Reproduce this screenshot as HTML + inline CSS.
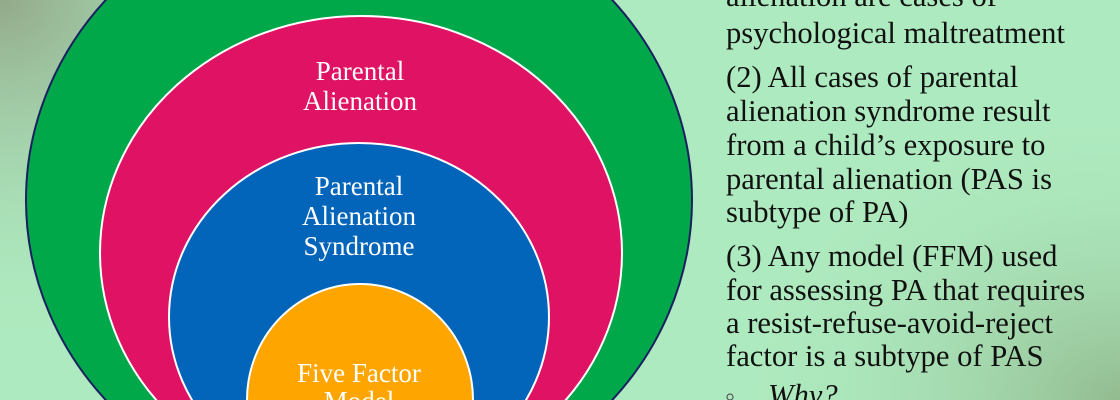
<!DOCTYPE html>
<html><head><meta charset="utf-8"><style>
html,body{margin:0;padding:0;}
body{width:1120px;height:400px;overflow:hidden;background:#aeeabf;}
svg{display:block}
</style></head><body>
<svg width="1120" height="400" viewBox="0 0 1120 400" xmlns="http://www.w3.org/2000/svg" style="overflow:hidden">
<defs>
<radialGradient id="tl" cx="0" cy="0" r="1" gradientUnits="userSpaceOnUse" gradientTransform="translate(0,0) scale(420,360)">
<stop offset="0" stop-color="#93a98a"/><stop offset="1" stop-color="#aeeabf" stop-opacity="0"/></radialGradient>
<radialGradient id="br" cx="0" cy="0" r="1" gradientUnits="userSpaceOnUse" gradientTransform="translate(1120,400) scale(400,300)">
<stop offset="0" stop-color="#93bb90"/><stop offset="1" stop-color="#aeeabf" stop-opacity="0"/></radialGradient>
</defs>
<rect width="1120" height="400" fill="#aeeabf"/>
<rect width="1120" height="400" fill="url(#tl)"/>
<rect width="1120" height="400" fill="url(#br)"/>
<ellipse cx="359" cy="200" rx="333" ry="308" fill="#00a84a" stroke="#1a2060" stroke-width="2"/>
<ellipse cx="361" cy="253" rx="261" ry="237" fill="#e01263" stroke="#fff" stroke-width="2"/>
<ellipse cx="359" cy="317" rx="190" ry="174" fill="#0365ba" stroke="#fff" stroke-width="2"/>
<ellipse cx="360" cy="400" rx="113" ry="116" fill="#fea500" stroke="#fff" stroke-width="2"/>
<g font-family="Liberation Serif, serif" font-size="27" fill="#fff" text-anchor="middle">
<text x="360" y="80">Parental</text>
<text x="360" y="110">Alienation</text>
<text x="359" y="195">Parental</text>
<text x="359" y="225">Alienation</text>
<text x="359" y="255">Syndrome</text>
<text x="359" y="382">Five Factor</text>
<text x="359" y="410">Model</text>
</g>
<g font-family="Liberation Serif, serif" font-size="30.6" fill="#111">
<text x="726" y="6">alienation are cases of</text>
<text x="726" y="43">psychological maltreatment</text>
<text x="726" y="87">(2) All cases of parental</text>
<text x="726" y="121">alienation syndrome result</text>
<text x="726" y="155">from a child’s exposure to</text>
<text x="726" y="189">parental alienation (PAS is</text>
<text x="726" y="222">subtype of PA)</text>
<text x="726" y="266">(3) Any model (FFM) used</text>
<text x="726" y="300">for assessing PA that requires</text>
<text x="726" y="333">a resist-refuse-avoid-reject</text>
<text x="726" y="366">factor is a subtype of PAS</text>
<text x="768" y="405" font-style="italic">Why?</text>
</g>
<circle cx="730" cy="397" r="3" fill="none" stroke="#555" stroke-width="1.2"/>
</svg>
</body></html>
